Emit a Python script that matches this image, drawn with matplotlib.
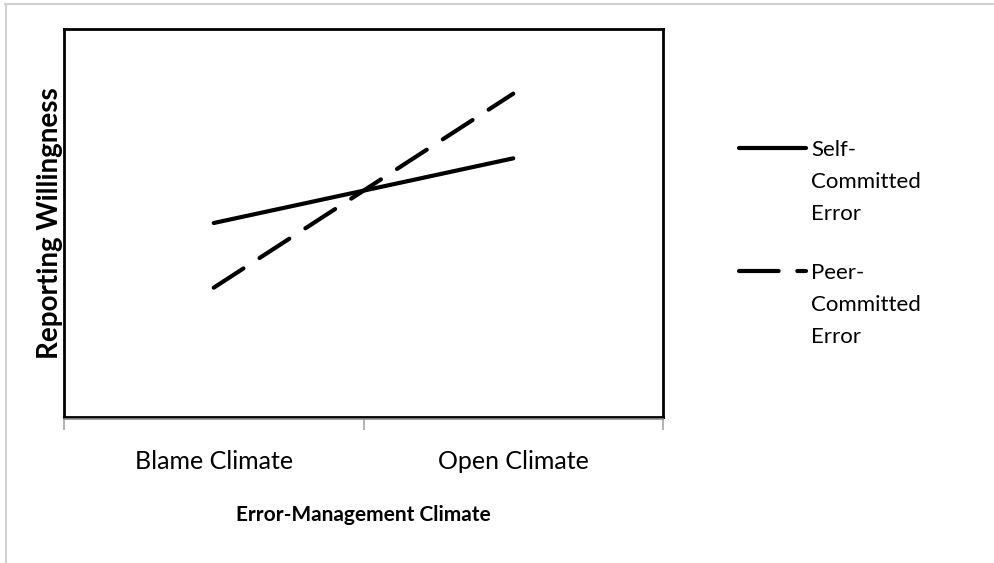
import matplotlib
matplotlib.use("Agg")
import matplotlib.pyplot as plt
from matplotlib.lines import Line2D

categories = ["Blame Climate", "Open Climate"]
self_committed = [3.0, 4.0]
peer_committed = [2.0, 5.0]
series_labels = ["Self-\nCommitted\nError", "Peer-\nCommitted\nError"]
x_title = "Error-Management Climate"
y_title = "Reporting Willingness"

FONT = "Lato"
W, H = 994, 563
fig = plt.figure(figsize=(W / 100, H / 100), dpi=100)

def fx(px):
    return px / W

def fy(py):
    return 1 - py / H

ax = fig.add_axes([fx(64), fy(417), fx(663) - fx(64), fy(29) - fy(417)])
x = [1, 2]
lw = 3.0
ax.plot(x, self_committed, color="black", lw=lw, solid_capstyle="round")
ax.plot(x, peer_committed, color="black", lw=lw, dash_capstyle="round",
        dashes=(8.5, 4.6))
ax.set_xlim(0.5, 2.5)
ax.set_ylim(0, 6)
ax.set_yticks([])
ax.set_xticks(x)
ax.set_xticklabels(categories, family=FONT, fontsize=18)
ax.tick_params(axis="x", which="major", length=0, pad=24)
ax.set_xticks([0.5, 1.5, 2.5], minor=True)
ax.tick_params(axis="x", which="minor", length=9, width=1.2, color="#a6a6a6")
for s in ax.spines.values():
    s.set_linewidth(2.0)
    s.set_color("black")
ax.set_xlabel(x_title, family=FONT, fontsize=15, fontweight="bold", labelpad=23)
ax.set_ylabel(y_title, family=FONT, fontsize=20, fontweight="bold", labelpad=1)

# gray axis line just below frame
fig.add_artist(Line2D([fx(64), fx(663)], [fy(419), fy(419)], color="#8c8c8c", lw=1.2))

# chart border
fig.add_artist(Line2D([fx(5), fx(994)], [fy(3.5), fy(3.5)], color="#d0d0d0", lw=1.5))
fig.add_artist(Line2D([fx(5.5), fx(5.5)], [fy(3.5), fy(563)], color="#d0d0d0", lw=1.5))

# legend
leg_items = [(148, dict(solid_capstyle="round")),
             (271, dict(dash_capstyle="round", dashes=(9.5, 4.5)))]
for (py, style), lab in zip(leg_items, series_labels):
    fig.add_artist(Line2D([fx(739), fx(806)], [fy(py), fy(py)], color="black", lw=lw, **style))
    fig.text(fx(811), fy(py - 8), lab, family=FONT, fontsize=16, va="top", ha="left",
             linespacing=1.74)

fig.savefig("out.png", dpi=100)
